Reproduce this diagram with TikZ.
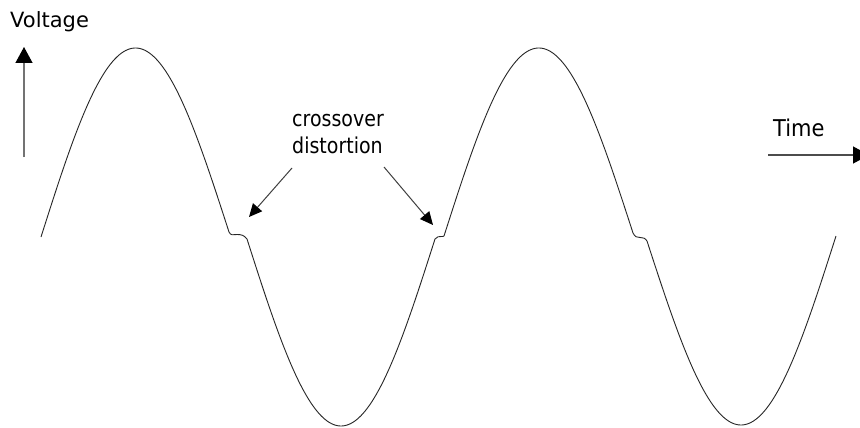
\documentclass[tikz,border=0pt]{standalone}
\usepackage{fontspec}
\setmainfont{DejaVu Sans}
\usetikzlibrary{arrows.meta}
\begin{document}
\begin{tikzpicture}[x=1pt,y=-1pt,
  wave/.style={line width=0.9pt,black!85,line join=round},
  lbl/.style={inner sep=0pt,anchor=base west,font=\fontsize{19}{23}\selectfont},
  biglbl/.style={inner sep=0pt,anchor=base west,font=\fontsize{21}{25}\selectfont},
  axisarrow/.style={line width=1.3pt,black!55,-{Triangle[length=16pt,width=17pt,color=black]}},
  ptrarrow/.style={line width=1pt,black!75,-{Triangle[length=13pt,width=12pt,color=black]}}]
\clip (0,0) rectangle (860,428);
\fill[white] (0,0) rectangle (860,428);
% axis labels
\node[biglbl] (volt) at (10,28) {Voltage};
\node[biglbl] (time) at (773,136) {\scalebox{1}[1.1]{Time}};
\node[lbl] (cross1) at (292,126.5) {\scalebox{1}[1.15]{crossover}};
\node[lbl] (cross2) at (292,153) {\scalebox{1}[1.15]{distortion}};
% axis arrows
\coordinate (vbot) at (24,157);
\coordinate (vtop) at (24,47);
\coordinate (tl) at (768,155);
\coordinate (tr) at (869,155);
\draw[axisarrow] (vbot) -- (vtop);
\draw[axisarrow,black!70] (tl) -- (tr);
% waveform
\draw[wave]
  plot[domain=41:229,samples=90,smooth] (\x,{237-5*(\x-41)/188-186.5*sin((\x-41)/188*180)})
  .. controls (231,236) and (233,234.5) .. (237,234.5)
  .. controls (241,234.5) and (244,235) .. (247,239)
  -- plot[domain=247:435,samples=90,smooth] (\x,{239+187*sin((\x-247)/188*180)})
  .. controls (437,236.5) and (439,236.5) .. (441,236.5)
  .. controls (442.5,236.5) and (443.5,236.5) .. (444,236)
  -- plot[domain=444:633,samples=90,smooth] (\x,{236-3*(\x-444)/189-186.5*sin((\x-444)/189*180)})
  .. controls (635,237) and (637,237.5) .. (640,237.5)
  .. controls (643,237.5) and (645,238) .. (647,241)
  -- plot[domain=647:836,samples=90,smooth] (\x,{241-5*(\x-647)/189+186.5*sin((\x-647)/189*180)});
% pointer arrows
\coordinate (p1s) at (292,168);
\coordinate (p1e) at (249,217);
\coordinate (p2s) at (384,167);
\coordinate (p2e) at (433,225);
\draw[ptrarrow] (p1s) -- (p1e);
\draw[ptrarrow] (p2s) -- (p2e);
\end{tikzpicture}
\end{document}
